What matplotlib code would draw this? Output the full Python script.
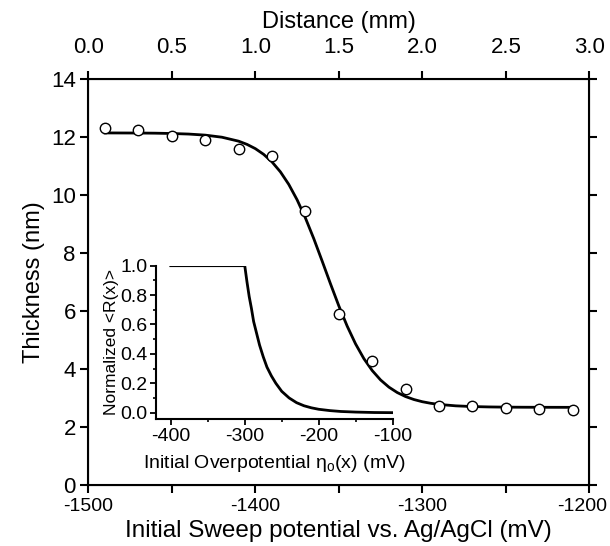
import matplotlib
matplotlib.use("Agg")
import matplotlib.pyplot as plt
from matplotlib.ticker import MultipleLocator, FormatStrFormatter
from matplotlib.transforms import ScaledTranslation

plt.rcParams['font.family'] = ['Liberation Sans', 'DejaVu Sans']
plt.rcParams['mathtext.fontset'] = 'custom'
plt.rcParams['mathtext.rm'] = 'Liberation Sans'
plt.rcParams['mathtext.it'] = 'Liberation Sans:italic'
plt.rcParams['axes.unicode_minus'] = False

# measured thickness vs distance
distance_mm = [0.1, 0.3, 0.5, 0.7, 0.9, 1.1, 1.3, 1.5, 1.7, 1.9, 2.1, 2.3, 2.5, 2.7, 2.9]
thickness_nm = [12.33, 12.25, 12.06, 11.91, 11.61, 11.34, 9.44, 5.91, 4.28, 3.30,
                2.74, 2.74, 2.67, 2.62, 2.59]

# fitted curve
fit_mm = [0.1, 0.2, 0.3, 0.4, 0.5, 0.6, 0.7, 0.8, 0.9, 0.95, 1.0, 1.05, 1.1, 1.15,
          1.2, 1.25, 1.3, 1.35, 1.4, 1.45, 1.5, 1.55, 1.6, 1.65, 1.7, 1.75, 1.8,
          1.85, 1.9, 1.95, 2.0, 2.05, 2.1, 2.2, 2.3, 2.4, 2.5, 2.6, 2.7, 2.8, 2.9]
fit_nm = [12.149, 12.147, 12.145, 12.140, 12.129, 12.110, 12.073, 12.001, 11.864,
          11.754, 11.607, 11.409, 11.147, 10.807, 10.375, 9.843, 9.214, 8.501,
          7.730, 6.943, 6.181, 5.483, 4.872, 4.361, 3.949, 3.625, 3.377, 3.190,
          3.051, 2.949, 2.874, 2.820, 2.781, 2.732, 2.707, 2.694, 2.687, 2.684,
          2.682, 2.681, 2.680]

# inset: normalized <R(x)> vs initial overpotential
eta_mV = [-400, -300, -297, -294, -291, -288, -284, -280, -275, -270, -264, -258,
          -250, -240, -230, -220, -210, -200, -185, -170, -150, -125, -100]
r_norm = [1.0, 1.0, 0.89, 0.79, 0.71, 0.62, 0.54, 0.46, 0.38, 0.31, 0.25, 0.20,
          0.145, 0.10, 0.068, 0.047, 0.033, 0.023, 0.014, 0.008, 0.004, 0.001, 0.0]

fig = plt.figure(figsize=(6.1, 5.46), dpi=100)
ax = fig.add_axes([0.1448, 0.1117, 0.8213, 0.7431])
ax.set_xlim(-1500, -1200)
ax.set_ylim(0, 14)
ax.set_xticks([-1500, -1400, -1300, -1200])
ax.xaxis.set_minor_locator(MultipleLocator(50))
ax.yaxis.set_major_locator(MultipleLocator(2))
ax.tick_params(which='both', direction='out', length=6, width=1.5, right=True, pad=3)
ax.tick_params(axis='x', labelsize=14)
ax.tick_params(axis='y', labelsize=16)
for s in ax.spines.values():
    s.set_linewidth(1.5)
ax.set_xlabel('Initial Sweep potential vs. Ag/AgCl (mV)', fontsize=17.5, labelpad=4)
ax.set_ylabel('Thickness (nm)', fontsize=17, labelpad=4)
# keep the last bottom label inside the figure
last = ax.get_xticklabels()[-1]
last.set_transform(last.get_transform() + ScaledTranslation(-5 / 72, 0, fig.dpi_scale_trans))

top = ax.twiny()
top.set_xlim(0, 3.0)
top.xaxis.set_major_locator(MultipleLocator(0.5))
top.xaxis.set_major_formatter(FormatStrFormatter('%.1f'))
top.tick_params(direction='out', length=6, width=1.5, labelsize=16, pad=9)
top.set_xlabel('Distance (mm)', fontsize=17, labelpad=7)
top.plot(fit_mm, fit_nm, color='black', lw=2.0, zorder=2)
top.plot(distance_mm, thickness_nm, 'o', ms=7.5, mfc='white', mec='black', mew=1.0,
         zorder=3)
top.set_ylim(0, 14)

ins = fig.add_axes([0.2557, 0.2321, 0.3881, 0.2813])
ins.set_facecolor('none')
ins.plot(eta_mV, r_norm, color='black', lw=2.0)
ins.set_xlim(-420, -100)
ins.set_ylim(-0.045, 1.0)
ins.spines['top'].set_visible(False)
ins.spines['right'].set_visible(False)
for s in ('left', 'bottom'):
    ins.spines[s].set_linewidth(1.5)
ins.xaxis.set_major_locator(MultipleLocator(100))
ins.xaxis.set_minor_locator(MultipleLocator(50))
ins.yaxis.set_major_locator(MultipleLocator(0.2))
ins.yaxis.set_minor_locator(MultipleLocator(0.1))
ins.yaxis.set_major_formatter(FormatStrFormatter('%.1f'))
ins.tick_params(which='major', direction='out', length=4, width=1.3, labelsize=14, pad=2)
ins.tick_params(which='minor', direction='out', length=2.5, width=1.2)
ins.set_xlabel(r'Initial Overpotential $\mathrm{\eta}_\mathrm{o}$(x) (mV)', fontsize=14,
               labelpad=6)
ins.set_ylabel('Normalized <R(x)>', fontsize=12.5, labelpad=1)

fig.savefig('out.png', dpi=100)
